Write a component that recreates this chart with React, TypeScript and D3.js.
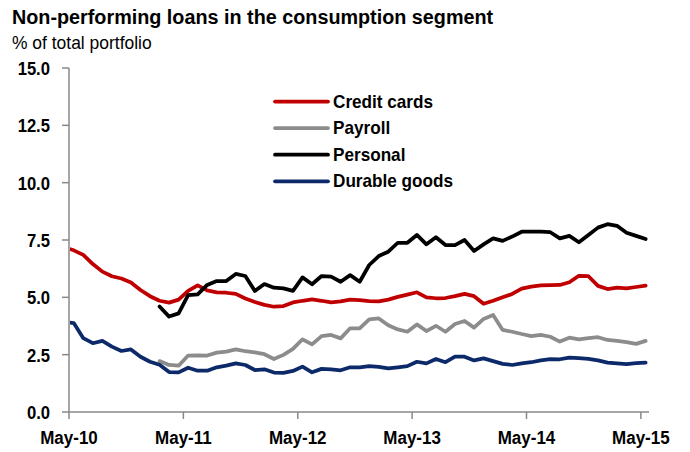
import { useEffect, useRef } from "react"
import * as d3 from "d3"

// monthly points, Apr-10 .. May-15 (mid-month), first one sits just left of the axis
const months = d3.range(62).map((k) => d3.timeFormat("%b-%y")(new Date(2010, 3 + k, 1)))

const tickLabels = ["May-10", "May-11", "May-12", "May-13", "May-14", "May-15"]
const yTicks = [0, 2.5, 5, 7.5, 10, 12.5, 15]

const creditCards = [
  7.18, 7.05, 6.85, 6.45, 6.12, 5.92, 5.82, 5.65, 5.32, 5.05,
  4.85, 4.77, 4.9, 5.28, 5.52, 5.3, 5.22, 5.2, 5.15, 4.95,
  4.8, 4.67, 4.59, 4.62, 4.78, 4.85, 4.91, 4.85, 4.78, 4.82,
  4.9, 4.88, 4.83, 4.82, 4.9, 5.02, 5.12, 5.22, 5.0, 4.96,
  4.97, 5.05, 5.15, 5.05, 4.72, 4.85, 5.0, 5.15, 5.38, 5.47,
  5.52, 5.53, 5.54, 5.66, 5.94, 5.92, 5.5, 5.36, 5.42, 5.39,
  5.45, 5.51,
]

const payroll: (number | null)[] = [
  null, null, null, null, null, null, null, null, null, null,
  2.22, 2.05, 2.02, 2.46, 2.47, 2.46, 2.59, 2.63, 2.73, 2.65,
  2.6, 2.52, 2.31, 2.49, 2.75, 3.17, 2.95, 3.31, 3.36, 3.21,
  3.65, 3.65, 4.04, 4.08, 3.78, 3.6, 3.5, 3.82, 3.53, 3.76,
  3.5, 3.84, 3.97, 3.68, 4.06, 4.23, 3.58, 3.5, 3.4, 3.31,
  3.36, 3.28, 3.07, 3.24, 3.17, 3.22, 3.26, 3.14, 3.1, 3.05,
  2.97, 3.1,
]

const personal: (number | null)[] = [
  null, null, null, null, null, null, null, null, null, null,
  4.6, 4.16, 4.3, 5.1, 5.13, 5.54, 5.71, 5.71, 6.02, 5.93,
  5.28, 5.58, 5.42, 5.39, 5.28, 5.87, 5.57, 5.93, 5.9, 5.68,
  5.97, 5.68, 6.41, 6.8, 6.99, 7.38, 7.38, 7.72, 7.31, 7.62,
  7.28, 7.28, 7.5, 7.02, 7.31, 7.57, 7.46, 7.65, 7.86, 7.86,
  7.86, 7.84, 7.57, 7.68, 7.4, 7.72, 8.04, 8.19, 8.12, 7.82,
  7.68, 7.54,
]

const durableGoods = [
  3.92, 3.88, 3.22, 3.0, 3.1, 2.85, 2.66, 2.73, 2.41, 2.19,
  2.06, 1.74, 1.73, 1.93, 1.8, 1.8, 1.95, 2.02, 2.12, 2.05,
  1.83, 1.86, 1.72, 1.71, 1.79, 1.98, 1.73, 1.88, 1.86, 1.82,
  1.95, 1.95, 2.0, 1.97, 1.9, 1.95, 2.0, 2.19, 2.12, 2.31,
  2.17, 2.41, 2.41, 2.25, 2.34, 2.22, 2.1, 2.05, 2.12, 2.17,
  2.25, 2.31, 2.3, 2.37, 2.35, 2.32, 2.25, 2.15, 2.12, 2.09,
  2.13, 2.15,
]

const seriesNames = ["Credit cards", "Payroll", "Personal", "Durable goods"]
const seriesValues = [creditCards, payroll, personal, durableGoods]
const seriesColors = ["#C00000", "#8C8C8C", "#000000", "#0C2A6A"]

const FONT = "'Liberation Sans', Arial, sans-serif"

export default function App() {
  const svgRef = useRef<SVGSVGElement>(null)

  useEffect(() => {
    if (!svgRef.current) return
    const W = 690
    const H = 452
    const svg = d3.select(svgRef.current)
    svg.selectAll("*").remove()
    svg.attr("width", W).attr("height", H).attr("viewBox", `0 0 ${W} ${H}`)

    const left = 69
    const right = 648
    const top = 68
    const bottom = 412

    // x in months from the May-10 tick, points sit at mid-month
    const x = d3.scaleLinear().domain([0, 60.75]).range([left, right])
    const y = d3.scaleLinear().domain([0, 15]).range([bottom, top])
    const px = (i: number) => x(i - 0.5)

    // narrow-ish text: squeeze horizontally around the anchor point
    const squeeze = (tx: number, ty: number, sx: number) => `translate(${tx},${ty}) scale(${sx},1)`

    svg
      .append("text")
      .attr("transform", squeeze(12, 24, 0.942))
      .style("font-family", FONT)
      .style("font-size", "21px")
      .style("font-weight", "bold")
      .style("fill", "#000")
      .text("Non-performing loans in the consumption segment")

    svg
      .append("text")
      .attr("transform", squeeze(12, 49, 0.97))
      .style("font-family", FONT)
      .style("font-size", "18px")
      .style("fill", "#000")
      .text("% of total portfolio")

    const axisColor = "#888888"

    // y axis
    svg
      .append("line")
      .attr("x1", left)
      .attr("x2", left)
      .attr("y1", top)
      .attr("y2", bottom)
      .style("stroke", axisColor)
      .style("stroke-width", 1.5)

    const yt = svg.append("g")
    yt.selectAll("line")
      .data(yTicks)
      .enter()
      .append("line")
      .attr("x1", left - 7)
      .attr("x2", left)
      .attr("y1", (d) => y(d))
      .attr("y2", (d) => y(d))
      .style("stroke", axisColor)
      .style("stroke-width", 1.5)
    yt.selectAll("text")
      .data(yTicks)
      .enter()
      .append("text")
      .attr("transform", (d) => squeeze(50, y(d) + 7, 0.9))
      .attr("text-anchor", "end")
      .style("font-family", FONT)
      .style("font-size", "18.5px")
      .style("font-weight", "bold")
      .style("fill", "#000")
      .text((d) => d3.format(".1f")(d))

    // x axis
    svg
      .append("line")
      .attr("x1", left)
      .attr("x2", right + 1)
      .attr("y1", bottom)
      .attr("y2", bottom)
      .style("stroke", axisColor)
      .style("stroke-width", 1.5)

    const xt = svg.append("g")
    xt.selectAll("line")
      .data(tickLabels)
      .enter()
      .append("line")
      .attr("x1", (_, i) => x(i * 12))
      .attr("x2", (_, i) => x(i * 12))
      .attr("y1", bottom)
      .attr("y2", bottom + 7)
      .style("stroke", axisColor)
      .style("stroke-width", 1.5)
    xt.selectAll("text")
      .data(tickLabels)
      .enter()
      .append("text")
      .attr("transform", (_, i) => squeeze(x(i * 12), 444, 0.92))
      .attr("text-anchor", "middle")
      .style("font-family", FONT)
      .style("font-size", "18.5px")
      .style("font-weight", "bold")
      .style("fill", "#000")
      .text((d) => d)

    svg
      .append("clipPath")
      .attr("id", "plot-clip")
      .append("rect")
      .attr("x", left + 1)
      .attr("y", top - 10)
      .attr("width", right - left + 10)
      .attr("height", bottom - top + 10)

    const line = d3
      .line<number | null>()
      .defined((d) => d !== null)
      .x((_, i) => px(i))
      .y((d) => y(d as number))

    const plot = svg.append("g").attr("clip-path", "url(#plot-clip)")
    plot
      .selectAll("path")
      .data(seriesValues)
      .enter()
      .append("path")
      .attr("d", (d) => line(d))
      .style("fill", "none")
      .style("stroke", (_, i) => seriesColors[i])
      .style("stroke-width", 3.75)
      .style("stroke-linejoin", "round")
      .style("stroke-linecap", "round")

    // legend
    const lg = svg
      .append("g")
      .selectAll("g")
      .data(seriesNames)
      .enter()
      .append("g")
      .attr("transform", (_, i) => `translate(275, ${101.5 + i * 26.6})`)
    lg.append("line")
      .attr("x1", 0)
      .attr("x2", 53)
      .style("stroke", (_, i) => seriesColors[i])
      .style("stroke-width", 3.75)
      .style("stroke-linecap", "round")
    lg.append("text")
      .attr("transform", squeeze(58, 6, 0.98))
      .style("font-family", FONT)
      .style("font-size", "17.5px")
      .style("font-weight", "bold")
      .style("fill", "#000")
      .text((d) => d)
  }, [])

  return (
    <div style={{ position: "absolute", left: 0, top: 0 }} data-months={months.length}>
      <svg ref={svgRef} style={{ display: "block", background: "#fff" }} />
    </div>
  )
}
